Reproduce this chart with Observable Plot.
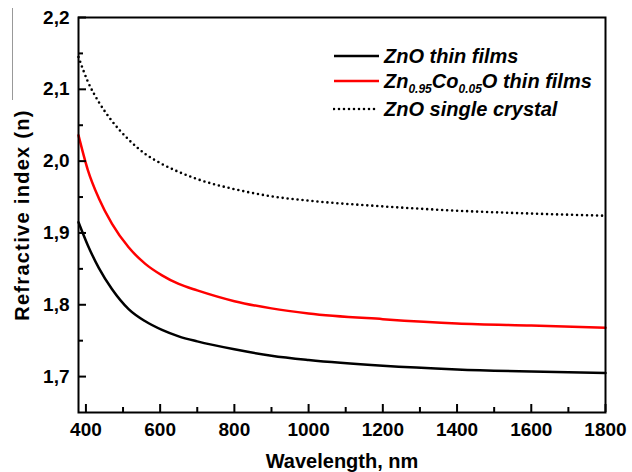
<!DOCTYPE html>
<html><head><meta charset="utf-8">
<script src="https://cdn.jsdelivr.net/npm/d3@7"></script>
<script src="https://cdn.jsdelivr.net/npm/@observablehq/plot@0.6"></script>
<style>
body{margin:0;background:#fff;}
#wrap{position:relative;width:632px;height:472px;font-family:"Liberation Sans",Arial,sans-serif;}
#legend{position:absolute;left:333px;top:0;}
.row{position:absolute;left:0;height:24px;display:flex;align-items:center;white-space:nowrap;font-weight:bold;font-style:italic;font-size:20px;color:#000;}
.row svg{margin-right:4px;flex:none}
.row sub{font-size:12px;vertical-align:-5px;line-height:0}
#scan{position:absolute;left:12px;top:8px;width:1px;height:92px;background:#999;}
</style></head><body><div id="wrap"><div id="scan"></div></div>
<script>
// Data
const wavelength = [380, 405, 435, 470, 515, 560, 605, 650, 700, 800, 900, 1000, 1200, 1400, 1600, 1800];
const znoFilm    = [1.915, 1.883, 1.851, 1.822, 1.794, 1.777, 1.765, 1.756, 1.749, 1.738, 1.729, 1.723, 1.715, 1.710, 1.707, 1.705];
const zncoFilm   = [2.036, 1.988, 1.948, 1.913, 1.880, 1.857, 1.841, 1.829, 1.820, 1.805, 1.795, 1.788, 1.780, 1.774, 1.771, 1.768];
const znoCrystal = [2.145, 2.111, 2.082, 2.056, 2.030, 2.010, 1.996, 1.985, 1.975, 1.961, 1.951, 1.945, 1.937, 1.931, 1.927, 1.924];

const xMajor = [400, 600, 800, 1000, 1200, 1400, 1600, 1800];
const xMinor = [500, 700, 900, 1100, 1300, 1500, 1700];
const yMajor = [1.7, 1.8, 1.9, 2.0, 2.1, 2.2];
const yMinor = [1.75, 1.85, 1.95, 2.05, 2.15];

const legendLabels = ["ZnO thin films", "Zn<sub>0.95</sub>Co<sub>0.05</sub>O thin films", "ZnO single crystal"];
const legendColors = ["#000", "#f00", "#000"];
const legendDash   = [null, null, "0,5"];

const W = 632, H = 472, mL = 78, mR = 27, mT = 17, mB = 60;
const innerW = W - mL - mR, innerH = H - mT - mB;

const toRows = arr => wavelength.map((w, i) => ({w, n: arr[i]}));
const fmt = d => d.toFixed(1).replace(".", ",");

const chart = Plot.plot({
  width: W, height: H,
  marginLeft: mL, marginRight: mR, marginTop: mT, marginBottom: mB,
  style: {fontFamily: "Liberation Sans, Arial, sans-serif", background: "#fff", color: "#000"},
  x: {domain: [380, 1800]},
  y: {domain: [1.65, 2.2]},
  marks: [
    Plot.line(toRows(znoCrystal), {x: "w", y: "n", stroke: "#000", strokeWidth: 2.6, strokeDasharray: "0,5", strokeLinecap: "round", curve: "monotone-x"}),
    Plot.line(toRows(zncoFilm), {x: "w", y: "n", stroke: "#f00", strokeWidth: 2.5, curve: "monotone-x"}),
    Plot.line(toRows(znoFilm), {x: "w", y: "n", stroke: "#000", strokeWidth: 2.5, curve: "monotone-x"}),
    Plot.ruleX(xMajor, {x: d => d, insetTop: innerH - 8, stroke: "#000", strokeWidth: 2}),
    Plot.ruleX(xMinor, {x: d => d, insetTop: innerH - 5, stroke: "#000", strokeWidth: 2}),
    Plot.ruleY(yMajor, {y: d => d, insetRight: innerW - 8, stroke: "#000", strokeWidth: 2}),
    Plot.ruleY(yMinor, {y: d => d, insetRight: innerW - 5, stroke: "#000", strokeWidth: 2}),
    Plot.frame({stroke: "#000", strokeWidth: 2}),
    Plot.axisX({ticks: xMajor, tickSize: 0, tickPadding: 10, fontSize: 19, fontWeight: "bold", label: null, tickFormat: d => String(d)}),
    Plot.axisY({ticks: yMajor, tickSize: 0, tickPadding: 9, fontSize: 19, fontWeight: "bold", label: null, tickFormat: fmt}),
    Plot.text(["Wavelength, nm"], {frameAnchor: "bottom", dy: 55, fontSize: 20, fontWeight: "bold"}),
    Plot.text(["Refractive index (n)"], {frameAnchor: "left", textAnchor: "middle", dx: -56, rotate: -90, fontSize: 20, fontWeight: "bold"})
  ]
});
d3.select(chart).selectAll("text")
  .filter(function() { return this.textContent === "Refractive index (n)"; })
  .style("letter-spacing", "1.3px");

const wrap = document.getElementById("wrap");
wrap.appendChild(chart);

const legend = document.createElement("div");
legend.id = "legend";
const centers = [56, 81, 109];
legendLabels.forEach((lab, i) => {
  const row = document.createElement("div");
  row.className = "row";
  row.style.top = (centers[i] - 12) + "px";
  const dash = legendDash[i] ? `stroke-dasharray="${legendDash[i]}" stroke-linecap="round" stroke-width="2.6"` : `stroke-width="2.5"`;
  row.innerHTML = `<svg width="47" height="6"><line x1="1" x2="46" y1="3" y2="3" stroke="${legendColors[i]}" ${dash}/></svg><span>${lab}</span>`;
  legend.appendChild(row);
});
wrap.appendChild(legend);
</script></body></html>
